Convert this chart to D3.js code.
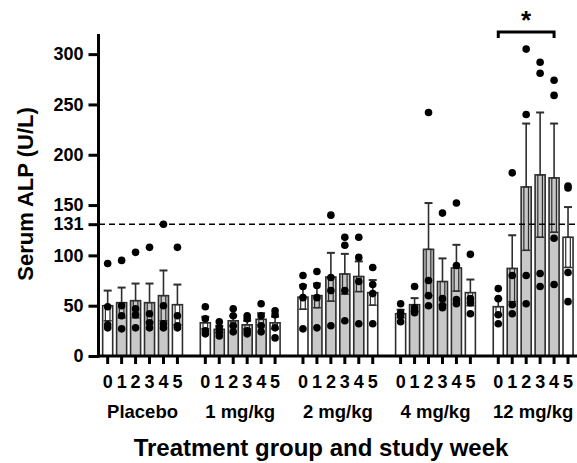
<!DOCTYPE html>
<html>
<head>
<meta charset="utf-8">
<script src="https://cdn.jsdelivr.net/npm/d3@7"></script>
<style>
  body { margin: 0; background: #fff; }
  svg text { font-family: "Liberation Sans", Arial, sans-serif; font-weight: bold; fill: #000; }
</style>
</head>
<body>
<div id="chart"></div>
<script>
// Data
const groups = ["Placebo", "1 mg/kg", "2 mg/kg", "4 mg/kg", "12 mg/kg"];
const weeks = [0, 1, 2, 3, 4, 5];
const yTicks = [0, 50, 100, 131, 150, 200, 250, 300];
const uln = 131;

// mean ALP per group x week
const meanALP = [
  [50, 53, 55, 53, 60, 51],
  [33, 26.5, 35, 31, 36.5, 33],
  [58.5, 60, 78.5, 81.5, 79, 63],
  [42, 51, 106, 74, 87.5, 63],
  [49, 87, 168, 180, 177, 118]
];
// SEM per group x week
const semALP = [
  [15, 15, 17, 19, 25, 20],
  [6, 3.5, 5, 4, 6, 6],
  [12, 12, 24, 20, 15, 12.5],
  [4, 6.5, 46, 23, 23, 13],
  [8, 33, 63, 62, 54, 30]
];
// individual subjects
const subjectALP = [
  [[92, 49, 31, 28], [95, 50, 40, 27], [103, 47, 41, 28], [108, 42, 33, 28], [131, 50, 32, 28], [108, 40, 30, 28]],
  [[49, 37, 25, 22], [34, 28, 24, 20], [47, 40, 30, 24], [40, 37, 25, 22], [52, 40, 30, 24], [45, 41, 28, 18]],
  [[80, 69, 58, 27], [84, 70, 58, 28], [140, 78, 65, 30], [118, 110, 65, 35], [118, 98, 74, 32], [88, 71, 62, 32]],
  [[52, 43, 40, 34], [69, 48, 45, 43], [242, 75, 60, 50], [142, 57, 50, 48], [152, 90, 56, 52], [101, 57, 53, 42]],
  [[67, 57, 41, 32], [182, 80, 51, 42], [305, 240, 80, 52], [292, 281, 82, 69], [274, 259, 117, 71], [169, 167, 83, 54]]
];
// significance bracket: 12 mg/kg week 0 vs week 4
const sigGroup = 4, sigFrom = 0, sigTo = 4, sigLevel = 322;

// Dimensions
const W = 577, H = 463;
const svg = d3.select("#chart").append("svg")
  .attr("width", W).attr("height", H);

// slots: 6 weeks per group with one empty slot between groups
const slots = [];
groups.forEach((g, gi) => {
  weeks.forEach(w => slots.push(gi + "-" + w));
  if (gi < groups.length - 1) slots.push("gap" + gi);
});

const x = d3.scaleBand()
  .domain(slots)
  .range([100.7, 575])
  .paddingInner(0.28)
  .paddingOuter(0.14);

const y = d3.scaleLinear()
  .domain([0, 320])
  .range([356, 34]);

const cx = (gi, w) => x(gi + "-" + w) + x.bandwidth() / 2;

// flatten
const bars = [];
groups.forEach((g, gi) => weeks.forEach((w, wi) => {
  bars.push({ gi, w, mean: meanALP[gi][wi], sem: semALP[gi][wi], pts: subjectALP[gi][wi] });
}));

const dark = "#2e2e2e";

// Bars
svg.append("g").selectAll("rect")
  .data(bars)
  .join("rect")
  .attr("x", d => x(d.gi + "-" + d.w))
  .attr("width", x.bandwidth())
  .attr("y", d => y(d.mean))
  .attr("height", d => y(0) - y(d.mean))
  .attr("fill", d => (d.w === 0 || d.w === 5) ? "#fff" : "#c8c8c8")
  .attr("stroke", dark)
  .attr("stroke-width", 1.6);

// Error bars
const eb = svg.append("g").selectAll("g")
  .data(bars)
  .join("g")
  .attr("transform", d => `translate(${cx(d.gi, d.w)},0)`);

eb.append("line")
  .attr("y1", d => y(d.mean)).attr("y2", d => y(d.mean + d.sem))
  .attr("stroke", dark).attr("stroke-width", 1.6);
eb.append("line")
  .attr("x1", -4).attr("x2", 4)
  .attr("y1", d => y(d.mean + d.sem)).attr("y2", d => y(d.mean + d.sem))
  .attr("stroke", dark).attr("stroke-width", 2);
eb.append("rect")
  .attr("x", -2.3).attr("width", 4.6)
  .attr("y", d => y(d.mean))
  .attr("height", d => y(d.mean - d.sem) - y(d.mean))
  .attr("fill", "none")
  .attr("stroke", dark).attr("stroke-width", 1.2);
eb.append("line")
  .attr("x1", -4).attr("x2", 4)
  .attr("y1", d => y(d.mean - d.sem)).attr("y2", d => y(d.mean - d.sem))
  .attr("stroke", dark).attr("stroke-width", 1.5);

// ULN dashed line
svg.append("line")
  .attr("x1", 99).attr("x2", W)
  .attr("y1", y(uln)).attr("y2", y(uln))
  .attr("stroke", "#000")
  .attr("stroke-width", 1.5)
  .attr("stroke-dasharray", "6,4");

// Individual points
svg.append("g").selectAll("circle")
  .data(bars.flatMap(b => b.pts.map(v => ({ gi: b.gi, w: b.w, v }))))
  .join("circle")
  .attr("cx", d => cx(d.gi, d.w))
  .attr("cy", d => y(d.v))
  .attr("r", 3.8)
  .attr("fill", "#000");

// Y axis
const yAxis = svg.append("g")
  .attr("transform", "translate(98.5,0)")
  .call(d3.axisLeft(y).tickValues(yTicks).tickSize(10).tickSizeOuter(0).tickPadding(5));
yAxis.select(".domain").attr("stroke", "#000").attr("stroke-width", 3)
  .attr("d", `M0,${y(320)}V${y(0) + 1.5}`);
yAxis.selectAll(".tick line").attr("stroke", "#000").attr("stroke-width", 3);
yAxis.selectAll(".tick text").style("font-size", "18px").attr("fill", "#000");

// X axis
const xAxis = svg.append("g")
  .attr("transform", `translate(0,${y(0)})`)
  .call(d3.axisBottom(x)
    .tickValues(slots.filter(s => !s.startsWith("gap")))
    .tickFormat(s => s.split("-")[1])
    .tickSize(8).tickSizeOuter(0).tickPadding(11));
xAxis.select(".domain").attr("stroke", "#000").attr("stroke-width", 3)
  .attr("d", `M97,0H${W}`);
xAxis.selectAll(".tick line").attr("stroke", "#000").attr("stroke-width", 3);
xAxis.selectAll(".tick text").style("font-size", "18px").attr("fill", "#000");

// Group labels
svg.append("g").selectAll("text")
  .data(groups)
  .join("text")
  .attr("x", (g, gi) => (cx(gi, 2) + cx(gi, 3)) / 2)
  .attr("y", 418)
  .attr("text-anchor", "middle")
  .style("font-size", "18.5px")
  .text(g => g);

// Axis titles
svg.append("text")
  .attr("x", 321).attr("y", 456)
  .attr("text-anchor", "middle")
  .style("font-size", "24px")
  .text("Treatment group and study week");

svg.append("text")
  .attr("transform", "translate(33,194) rotate(-90)")
  .attr("text-anchor", "middle")
  .style("font-size", "22px")
  .text("Serum ALP (U/L)");

// Significance bracket
const bx1 = cx(sigGroup, sigFrom), bx2 = cx(sigGroup, sigTo), by = y(sigLevel);
svg.append("path")
  .attr("d", `M${bx1},${by + 6}V${by}H${bx2}V${by + 6}`)
  .attr("fill", "none")
  .attr("stroke", "#000")
  .attr("stroke-width", 3);
svg.append("text")
  .attr("x", (bx1 + bx2) / 2).attr("y", by - 3)
  .attr("text-anchor", "middle")
  .style("font-size", "26px")
  .text("*");
</script>
</body>
</html>
